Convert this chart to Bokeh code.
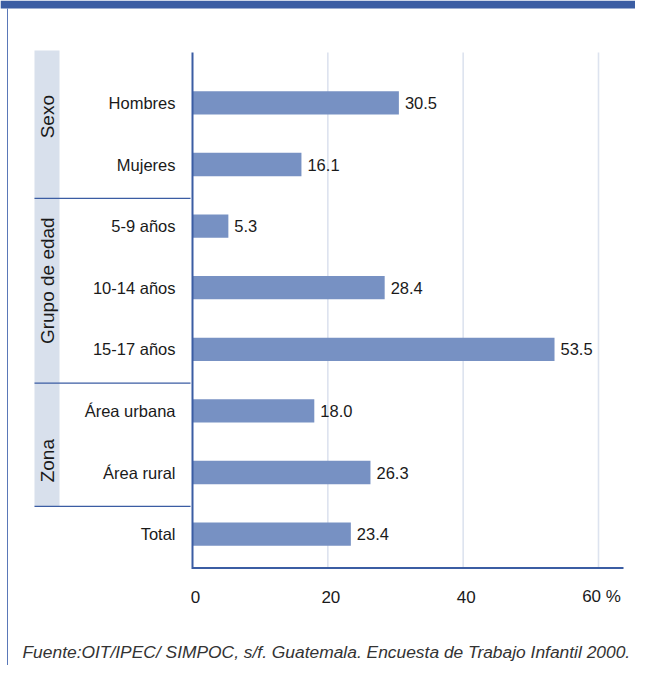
import math
from bokeh.plotting import figure
from bokeh.models import Range1d, ColumnDataSource
from bokeh.core.properties import value
from bokeh.embed import file_html
from bokeh.resources import INLINE

# ---- data ----
categories = ["Hombres", "Mujeres", "5-9 años", "10-14 años", "15-17 años",
              "Área urbana", "Área rural", "Total"]
values = [30.5, 16.1, 5.3, 28.4, 53.5, 18.0, 26.3, 23.4]
value_labels = ["30.5", "16.1", "5.3", "28.4", "53.5", "18.0", "26.3", "23.4"]
groups = ["Sexo", "Grupo de edad", "Zona"]
group_members = [[0, 1], [2, 3, 4], [5, 6]]
tick_values = [0, 20, 40, 60]
tick_labels = ["0", "20", "40", "60 %"]
source_note = "Fuente:OIT/IPEC/ SIMPOC, s/f. Guatemala. Encuesta de Trabajo Infantil 2000."

# ---- layout helpers (figure px -> data units) ----
W, H = 635, 665
X0_PX = 192.0
PXU = 406.0 / 60.0
ROW0_PX = 102.4
ROW_PX = 61.6

def xd(px):
    return (px - X0_PX) / PXU

def yd(py):
    return (py - ROW0_PX) / ROW_PX

FONT = "Liberation Sans"
BLUE = "#3b5da3"
BAR = "#7791c3"
BAND = "#d8e0ec"
GRID = "#dde3ef"

p = figure(width=W, height=H, output_backend="svg", toolbar_location=None,
           x_range=Range1d(xd(0), xd(W)), y_range=Range1d(yd(H), yd(0)),
           x_axis_location=None, y_axis_location=None, min_border=0)
p.grid.visible = False
p.outline_line_color = None
p.background_fill_color = "white"
p.border_fill_color = "white"

# header band and left border
p.quad(left=xd(0), right=xd(W), top=yd(0), bottom=yd(8), fill_color=BLUE, line_color=None)
p.segment(x0=xd(7), y0=yd(8), x1=xd(7), y1=yd(H), line_color="#5a78b8", line_width=1)

# group bands
p.quad(left=xd(34), right=xd(59), top=yd(50), bottom=6.55, fill_color=BAND, line_color=None)

# separators between groups
sep_rows = [members[-1] + 0.55 for members in group_members]
p.segment(x0=[xd(34)] * 3, x1=[xd(190)] * 3, y0=sep_rows, y1=sep_rows,
          line_color=BLUE, line_width=1.2)

# gridlines
grid_x = tick_values[1:]
p.segment(x0=grid_x, x1=grid_x, y0=[yd(52)] * 3, y1=[yd(567)] * 3,
          line_color=GRID, line_width=1.6)

# bars
idx = list(range(len(categories)))
src = ColumnDataSource(dict(y=idx, v=values, lab=value_labels, cat=categories))
p.hbar(y="y", right="v", left=0, height=23.3 / ROW_PX, source=src,
       fill_color=BAR, line_color=None)

# axis lines
p.segment(x0=0, x1=0, y0=yd(52), y1=yd(568.5), line_color=BLUE, line_width=2)
p.segment(x0=0, x1=xd(623), y0=yd(567.5), y1=yd(567.5), line_color=BLUE, line_width=2)

# value labels
p.text(x="v", y="y", text="lab", source=src, x_offset=6, text_align="left",
       text_baseline="middle", text_font=value(FONT), text_font_size="16.5px",
       text_color="#1a1a1a")

# category labels
p.text(x=xd(175), y="y", text="cat", source=src, text_align="right",
       text_baseline="middle", text_font=value(FONT), text_font_size="16.5px",
       text_color="#1a1a1a")

# group labels (rotated)
gsrc = ColumnDataSource(dict(
    y=[sum(m) / len(m) for m in group_members],
    t=groups,
    off=[-17, -7, 19],
))
p.text(x=xd(46.5), y="y", text="t", source=gsrc, y_offset="off", angle=math.pi / 2,
       text_align="center", text_baseline="middle", text_font=value(FONT),
       text_font_size="19px", text_color="#1a1a1a")

# x tick labels
p.text(x=tick_values, y=[yd(596)] * len(tick_values), text=tick_labels, x_offset=3,
       text_align="center", text_baseline="middle", text_font=value(FONT),
       text_font_size="17px", text_color="#1a1a1a")

# source note
p.text(x=[xd(22)], y=[yd(651)], text=[source_note], text_align="left",
       text_baseline="middle", text_font=value(FONT), text_font_style="italic",
       text_font_size="17.4px", text_color="#333333")

open("out.html", "w").write(file_html(p, INLINE))
